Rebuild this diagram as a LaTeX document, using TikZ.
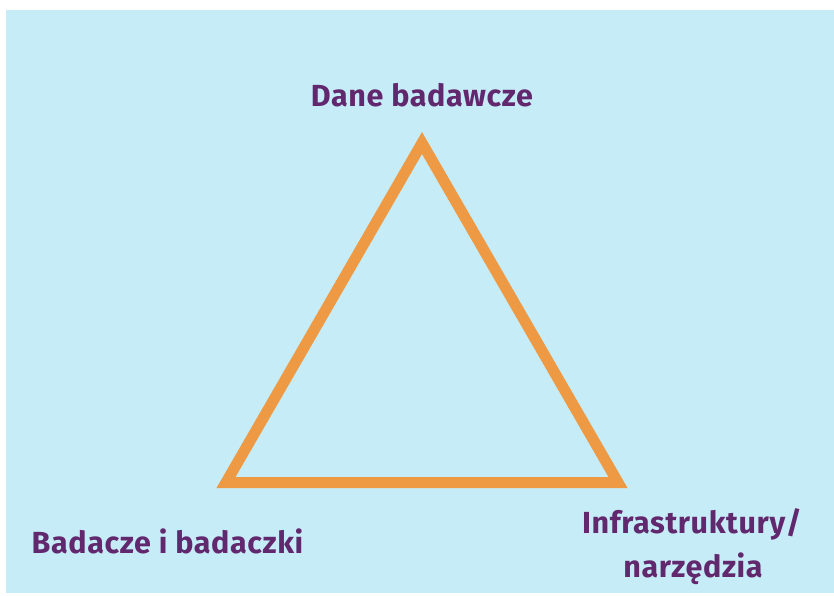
\documentclass[tikz,border=0pt]{standalone}
\usepackage{fontspec}
\setmainfont{Fira Sans}[LetterSpace=2]
\definecolor{bgblue}{HTML}{C5ECF7}
\definecolor{tri}{HTML}{EE9A45}
\definecolor{lbl}{HTML}{62286E}
\begin{document}
\begin{tikzpicture}[x=1pt,y=-1pt,
  lab/.style={text=lbl,font=\fontsize{30.5}{44}\selectfont\bfseries,inner sep=0pt,anchor=base,align=center}]
\fill[white] (0,0) rectangle (834,595);
\useasboundingbox (0,0) rectangle (834,595);
\fill[bgblue] (6,10) rectangle (834,593);
\coordinate (top) at (422,143);
\coordinate (bl) at (226,482.5);
\coordinate (br) at (618,482.5);
\draw[tri,line width=11pt,line join=miter] (top) -- (br) -- (bl) -- cycle;
\node[lab] (t) at (422,106) {Dane badawcze};
\node[lab] (l) at (167.5,553) {Badacze i badaczki};
\node[lab,anchor=base] (r1) at (692,533) {Infrastruktury/};
\node[lab,anchor=base] (r2) at (693,577) {narzędzia};
\end{tikzpicture}
\end{document}
